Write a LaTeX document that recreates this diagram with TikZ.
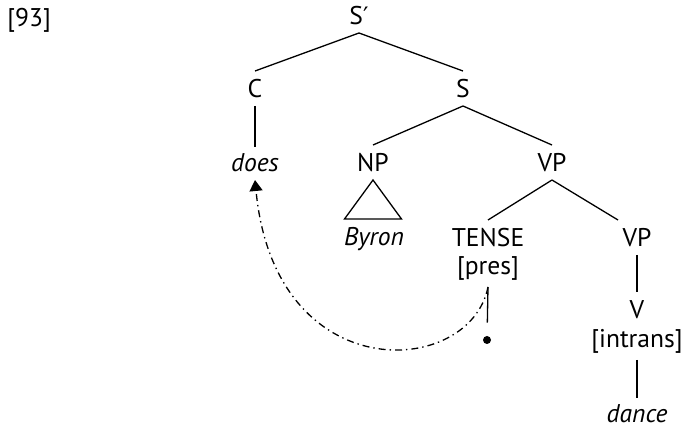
\documentclass[tikz,border=0pt]{standalone}
\usepackage{fontspec}
\newfontfamily\treefont{PT Sans}
\newfontfamily\primefont{DejaVu Sans}
\usetikzlibrary{arrows.meta}

\begin{document}
\begin{tikzpicture}[
  x=0.5pt, y=-0.5pt,
  font=\treefont\fontsize{12.8}{15}\selectfont,
  cat/.style={inner sep=0pt, outer ysep=4pt, anchor=base, text height=9.5pt, text depth=0pt},
  feat/.style={cat, text depth=2pt},
  word/.style={cat, font=\treefont\itshape\fontsize{12.8}{15}\selectfont, text height=8.5pt},
  trace/.style={circle, fill=black, inner sep=0pt, minimum size=4pt},
  branch/.style={draw=black, line width=0.65pt},
  move/.style={draw=black, line width=0.65pt, dash pattern=on 3.5pt off 2pt on 0.7pt off 2pt,
               -{Triangle[width=6.5pt,length=5.5pt]}}
]
\useasboundingbox (0,0) rectangle (681,427);
\node[inner sep=0pt, anchor=base west] (num) at (7,27) {[93]};
\node[cat] (sbar) at (359,25) {S{\primefont\fontsize{12}{14}\selectfont ′}};
\node[cat] (c) at (255,98) {C};
\node[cat] (s) at (463,98) {S};
\node[word] (does) at (255,172) {does};
\node[cat] (np) at (373,172) {NP};
\node[cat] (vp) at (552,172) {VP};
\node[word] (byron) at (374,246) {Byron};
\node[cat] (tense) at (488,247) {TENSE};
\node[feat] (pres) at (488,275) {[pres]};
\node[trace] (gap) at (487,340) {};
\node[cat] (vpb) at (637,247) {VP};
\node[cat] (v) at (637,319) {V};
\node[feat] (intrans) at (637,348) {[intrans]};
\node[word] (dance) at (637,423) {dance};
\draw[branch] (sbar.south) -- (c.north);
\draw[branch] (sbar.south) -- (s.north);
\draw[branch] (c.south) -- (does.north);
\draw[branch] (s.south) -- (np.north);
\draw[branch] (s.south) -- (vp.north);
\draw[branch] (np.south) -- ++(-28.5,39) -- ++(57,0) -- cycle;
\draw[branch] (vp.south) -- (tense.north);
\draw[branch] (vp.south) -- ([xshift=-9.5pt]vpb.north);
\draw[branch, shorten >=6.5pt] (pres.south) -- (gap);
\draw[branch] (vpb.south) -- (v.north);
\draw[branch] (intrans.south) -- (dance.north);
\draw[move] (pres.south) .. controls (470,378) and (275,390) .. (does.south);
\end{tikzpicture}
\end{document}
